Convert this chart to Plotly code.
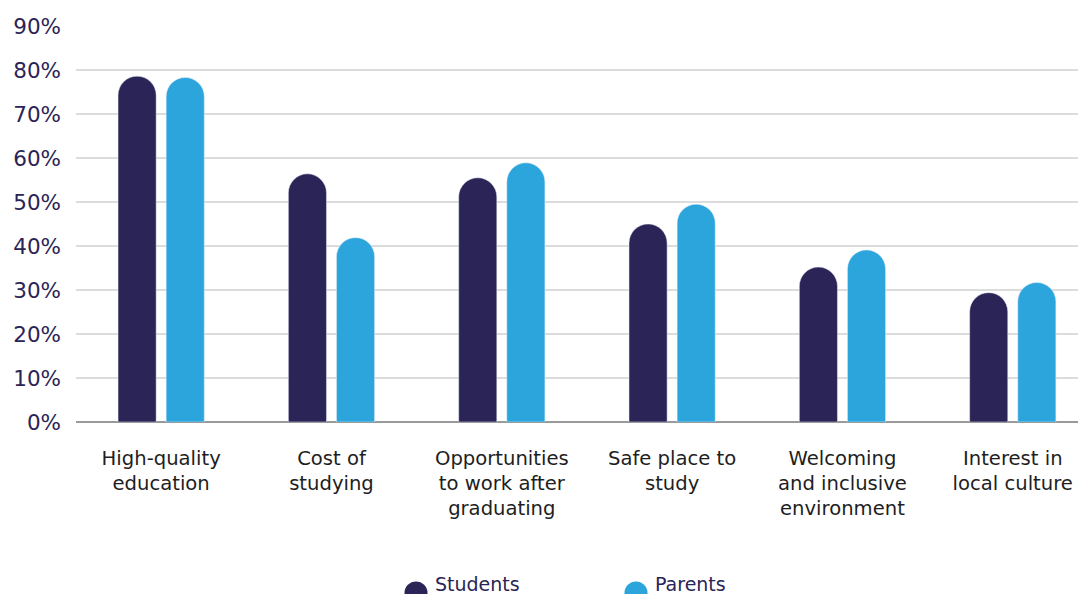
import plotly.graph_objects as go

categories = [
    "High-quality<br>education",
    "Cost of<br>studying",
    "Opportunities<br>to work after<br>graduating",
    "Safe place to<br>study",
    "Welcoming<br>and inclusive<br>environment",
    "Interest in<br>local culture",
]
students = [78.6, 56.4, 55.5, 45.0, 35.2, 29.4]
parents = [78.3, 41.9, 58.9, 49.5, 39.1, 31.7]
y_ticks = [0, 10, 20, 30, 40, 50, 60, 70, 80, 90]
y_tick_labels = [f"{v}%" for v in y_ticks]
series_names = ["Students", "Parents"]

NAVY = "#2b2456"
BLUE = "#2ca5dd"
FONT = "DejaVu Sans"

fig = go.Figure()
fig.add_trace(go.Bar(x=categories, y=students, name=series_names[0],
                     marker=dict(color=NAVY, cornerradius="50%"), showlegend=False))
fig.add_trace(go.Bar(x=categories, y=parents, name=series_names[1],
                     marker=dict(color=BLUE, cornerradius="50%"), showlegend=False))

# page has an 8px body margin
OFF = 8
W, H = 1078, 586
ml, mr, mt, mb = 68, 0, 18, 172
ph = H - mt - mb
pw = W - ml - mr

def px_to_paper_y(py):
    return (H - mb - (py - OFF)) / ph

def px_to_paper_x(px):
    return ((px - OFF) - ml) / pw

legend_items = [(series_names[0], NAVY, 416), (series_names[1], BLUE, 636)]
for name, col, cx in legend_items:
    fig.add_shape(type="circle", xref="paper", yref="paper",
                  xsizemode="pixel", ysizemode="pixel",
                  xanchor=px_to_paper_x(cx), yanchor=px_to_paper_y(593),
                  x0=-11.5, x1=11.5, y0=-11.5, y1=11.5,
                  fillcolor=col, line=dict(width=0))
    fig.add_annotation(text=name, xref="paper", yref="paper",
                       x=px_to_paper_x(cx + 17), y=px_to_paper_y(584),
                       xanchor="left", yanchor="middle", showarrow=False,
                       font=dict(family=FONT, size=19, color=NAVY))

fig.update_layout(
    width=W, height=H,
    margin=dict(l=ml, r=mr, t=mt, b=mb),
    plot_bgcolor="white", paper_bgcolor="white",
    barmode="group", bargap=0.435, bargroupgap=0.208,
    font=dict(family=FONT),
    xaxis=dict(range=[-0.5, 5.43], showgrid=False,
               tickfont=dict(family=FONT, size=19.6, color="#1e1e1e"),
               ticks="outside", ticklen=18, tickcolor="rgba(0,0,0,0)",
               showline=False, zeroline=False),
    yaxis=dict(range=[0, 90], tickvals=y_ticks, ticktext=y_tick_labels,
               showgrid=True, gridcolor="#dcdcdc", gridwidth=2,
               zeroline=True, zerolinecolor="#9a9a9a", zerolinewidth=1.5,
               tickfont=dict(family=FONT, size=21.5, color=NAVY),
               ticklabelstandoff=14, showline=False),
)

fig.write_html("out.html")
